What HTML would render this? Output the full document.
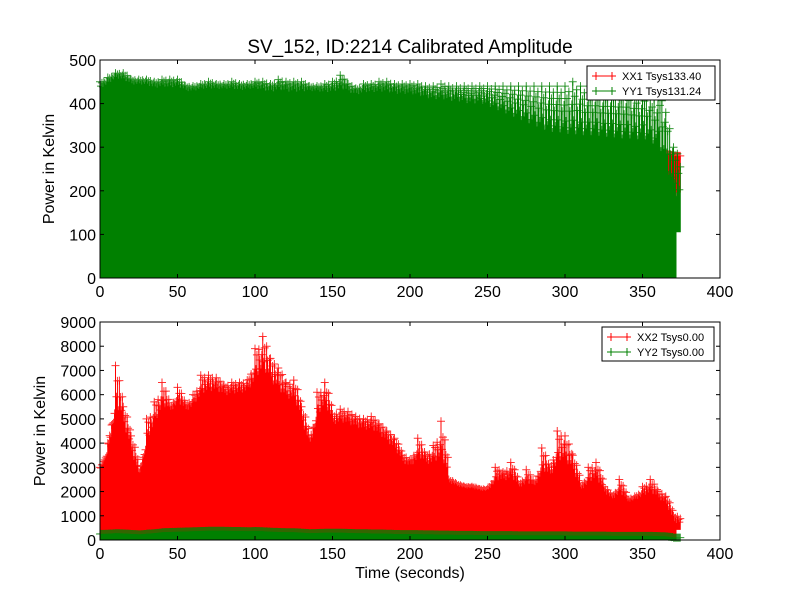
<!DOCTYPE html>
<html><head><meta charset="utf-8"><style>
body{margin:0;background:#fff;}
svg text{font-family:"Liberation Sans","DejaVu Sans",sans-serif;}
</style></head><body>
<svg id="chart" width="800" height="600" xmlns="http://www.w3.org/2000/svg">
<rect width="800" height="600" fill="#fff"/>
<g id="top"></g>
<g id="bot"></g>
</svg>
<script>
const times=[0,5,10,15,20,25,30,35,40,45,50,55,60,65,70,75,80,85,90,95,100,105,110,115,120,125,130,135,140,145,150,155,160,165,170,175,180,185,190,195,200,205,210,215,220,225,230,235,240,245,250,255,260,265,270,275,280,285,290,295,300,305,310,315,320,325,330,335,340,345,350,355,360,365,370];
const yy1Solid=[430,440,455,450,440,440,440,430,435,430,435,425,425,430,430,430,430,430,425,430,430,425,420,425,420,420,420,425,425,420,420,425,420,415,420,420,420,420,415,415,415,410,405,400,400,395,395,390,385,390,380,370,360,350,340,330,320,310,300,300,295,290,290,290,290,285,285,280,280,280,280,275,260,220,150];
const yy1Peak=[450,460,470,470,455,455,455,450,455,455,455,440,440,445,450,445,445,450,445,445,450,450,445,455,450,450,450,440,440,445,450,465,445,435,445,445,450,450,445,445,445,445,440,440,445,440,440,440,440,440,440,440,440,440,440,440,440,440,440,440,440,450,440,440,440,440,440,440,440,430,440,420,440,380,300];
const xx1Vals=[0,0,0,0,0,0,0,0,0,0,0,0,0,0,0,0,0,0,0,0,0,0,0,0,0,0,0,0,0,0,0,0,0,0,0,0,0,0,0,0,0,0,0,0,0,0,0,0,0,0,0,0,0,0,0,0,0,0,0,0,0,0,0,0,0,0,0,0,0,0,0,280,280,285,280];
const xx2Peak=[3000,4000,7200,5500,4300,2800,5000,5700,6500,5500,6300,5600,6000,6800,6800,6700,6400,6500,6500,6600,7900,8400,7500,7100,6500,6600,5500,4200,6100,6500,5200,5400,5300,5100,5000,5100,4800,4500,4200,3500,3300,4200,3500,3900,4900,2500,2300,2200,2200,2100,2100,3000,2800,3200,2300,2900,2300,3800,3000,4500,4300,3500,2200,3000,3200,2200,1800,2500,1700,1800,2200,2500,2000,1800,1000];
const xx2Solid=[2800,3600,5000,4600,3400,2500,3800,4500,5200,5200,5500,5200,5400,5800,5900,6000,5800,5900,5900,6000,6300,6600,6200,5900,5600,5600,4700,3700,4800,5300,4600,4700,4600,4500,4400,4400,4200,3900,3600,3100,2900,3200,3000,3000,3000,2300,2200,2100,2100,2000,2000,2300,2300,2400,2100,2200,2100,2600,2400,2900,2900,2600,2000,2200,2300,1900,1600,1800,1500,1600,1700,1800,1600,1400,600];
const yy2Vals=[250,260,280,270,250,230,260,280,320,330,340,350,360,370,380,380,380,370,370,360,370,360,340,330,320,320,300,280,290,300,300,300,290,280,280,270,270,260,250,240,240,240,230,230,220,220,210,210,210,200,200,200,200,200,190,190,190,190,190,190,190,180,180,180,180,180,170,170,170,170,170,170,160,150,100];
const xTicks=[0,50,100,150,200,250,300,350,400];
const topYTicks=[0,100,200,300,400,500];
const botYTicks=[0,1000,2000,3000,4000,5000,6000,7000,8000,9000];
const spikeShape=[1,0.45,0.8,0.25,0.9,0.6,0.35,0.7];

const NS="http://www.w3.org/2000/svg";
function mk(parent,tag,attrs){const e=document.createElementNS(NS,tag);for(const k in attrs)e.setAttribute(k,attrs[k]);parent.appendChild(e);return e;}
const X0=100,X1=720;
function xs(t){return X0+(t/400)*(X1-X0);}

function drawSeries(g,ys,solid,peak,color,name){
  let pts=[];
  for(let i=0;i<times.length;i++){if(solid[i]>0||peak[i]>0)pts.push(i);}
  if(!pts.length)return;
  const first=pts[0],last=pts[pts.length-1];
  let d="M"+xs(times[first])+","+ys(0);
  for(let j=0;j<pts.length;j++){const i=pts[j];d+=" L"+xs(times[i])+","+ys(solid[i]);
    if(j<pts.length-1){const mid=(times[i]+times[pts[j+1]])/2;d+=" L"+xs(mid)+","+ys((solid[i]+solid[pts[j+1]])/2);}}
  d+=" L"+(xs(times[last])+3)+","+ys(solid[last])+" L"+(xs(times[last])+3)+","+ys(0)+" Z";
  const p=mk(g,"path",{d:d,fill:color,stroke:"none"});
  
  
  let sp="",mp="";
  for(let j=0;j<pts.length;j++){const i=pts[j];
    const nxt=j<pts.length-1?pts[j+1]:i;
    for(let k=0;k<spikeShape.length;k++){
      const f=k/spikeShape.length;
      const tt=times[i]+f*5;const x=xs(tt);
      const s=solid[i]+(solid[nxt]-solid[i])*f;
      const pk=peak[i]+(peak[nxt]-peak[i])*f*0.5;
      const v=s+(pk-s)*spikeShape[k];
      sp+="M"+x+","+ys(s*0.7)+" V"+ys(v)+" ";
      mp+="M"+(x-4)+","+ys(v)+" h8 M"+x+","+(ys(v)-4)+" v8 ";
    }}
  const l=mk(g,"path",{d:sp,stroke:color,"stroke-width":1,fill:"none"});
  
  
  const m=mk(g,"path",{d:mp,stroke:color,"stroke-width":1,fill:"none","stroke-opacity":0.8});
  
  
}

function axes(g,yTop,yBot,yMax,yTicks,ys,ylabel){
  mk(g,"rect",{x:X0,y:yTop,width:X1-X0,height:yBot-yTop,fill:"none",stroke:"#000","stroke-width":1});
  xTicks.forEach(t=>{const x=xs(t);
    mk(g,"line",{x1:x,x2:x,y1:yBot,y2:yBot-4,stroke:"#000"});
    mk(g,"line",{x1:x,x2:x,y1:yTop,y2:yTop+4,stroke:"#000"});
    const tx=mk(g,"text",{x:x,y:yBot+19,"text-anchor":"middle","font-size":16});tx.textContent=t;
    
    
  });
  yTicks.forEach(v=>{const y=ys(v);
    mk(g,"line",{x1:X0,x2:X0+4,y1:y,y2:y,stroke:"#000"});
    mk(g,"line",{x1:X1,x2:X1-4,y1:y,y2:y,stroke:"#000"});
    const tx=mk(g,"text",{x:X0-4,y:y+6,"text-anchor":"end","font-size":16});tx.textContent=v;
    
    
  });
  const yl=mk(g,"text",{x:0,y:0,"text-anchor":"middle","font-size":16,transform:"translate("+(X0-46+(yMax>1000?-9:0))+","+((yTop+yBot)/2)+") rotate(-90)"});
  yl.textContent=ylabel;
  
  
}

function legend(g,x,y,w,labels){
  const r=mk(g,"rect",{x:x,y:y,width:w,height:34,fill:"#fff",stroke:"#000","stroke-width":1});
  
  
  labels.forEach((lb,i)=>{const yy=y+10+i*15;
    mk(g,"path",{d:"M"+(x+5)+","+yy+" h24 M"+(x+9)+","+(yy-4)+" v8 M"+(x+25)+","+(yy-4)+" v8",stroke:lb[1],"stroke-width":1,fill:"none"});
    const t=mk(g,"text",{x:x+35,y:yy+4,"font-size":11});t.textContent=lb[0];
    
    
  });
}

// top
const gt=document.getElementById('top');
const ysT=v=>278-(v/500)*218;
drawSeries(gt,ysT,xx1Vals,xx1Vals,"#ff0000","xx1");
drawSeries(gt,ysT,yy1Solid,yy1Peak,"#008000","yy1");
axes(gt,60,278,500,topYTicks,ysT,"Power in Kelvin");
legend(gt,587,66,128,[["XX1 Tsys133.40","#ff0000"],["YY1 Tsys131.24","#008000"]]);
const title=mk(gt,"text",{x:410,y:53,"text-anchor":"middle","font-size":19});
title.textContent="SV_152, ID:2214 Calibrated Amplitude";



// bottom
const gb=document.getElementById('bot');
const ysB=v=>540-(v/9000)*218;
drawSeries(gb,ysB,xx2Solid,xx2Peak,"#ff0000","xx2");
drawSeries(gb,ysB,yy2Vals,yy2Vals,"#008000","yy2");
axes(gb,322,540,9000,botYTicks,ysB,"Power in Kelvin");
legend(gb,602,327,112,[["XX2 Tsys0.00","#ff0000"],["YY2 Tsys0.00","#008000"]]);
const xl=mk(gb,"text",{x:410,y:578,"text-anchor":"middle","font-size":16});
xl.textContent="Time (seconds)";


</script>
</body></html>
